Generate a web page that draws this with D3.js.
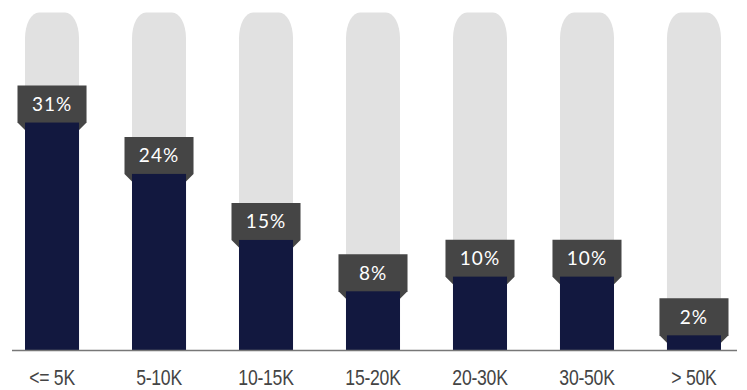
<!DOCTYPE html>
<html><head><meta charset="utf-8">
<script src="https://cdn.jsdelivr.net/npm/d3@7/dist/d3.min.js"></script>
<style>html,body{margin:0;padding:0;background:#fff;}svg{display:block;}</style>
</head><body>
<svg id="chart" width="747" height="390"></svg>
<script>
const categories = ["<= 5K", "5-10K", "10-15K", "15-20K", "20-30K", "30-50K", "> 50K"];
const values = [31, 24, 15, 8, 10, 10, 2];
const trackMax = 46;

const svg = d3.select("#chart");
const baseY = 350;
const x = d3.scaleBand().domain(categories).range([25, 721]).paddingInner(0.495).paddingOuter(0);
const y = d3.scaleLinear().domain([0, trackMax]).range([baseY, 12.5]);
const bw = x.bandwidth();

// tracks
const rx = 14, ry = 26;
svg.append("g").selectAll("path").data(categories).join("path")
  .attr("fill", "#e1e1e1")
  .attr("d", c => {
    const x0 = x(c), x1 = x0 + bw, t = y(trackMax);
    return `M${x0},${baseY} L${x0},${t+ry} A${rx},${ry} 0 0 1 ${x0+rx},${t} L${x1-rx},${t} A${rx},${ry} 0 0 1 ${x1},${t+ry} L${x1},${baseY} Z`;
  });

// label boxes
const boxH = 37, ext = 7.5, cham = 7.5;
const lab = svg.append("g").selectAll("g").data(values).join("g");
lab.append("path").attr("fill", "#454545")
  .attr("d", (v, i) => {
    const x0 = x(categories[i]), x1 = x0 + bw, t = y(v);
    return `M${x0-ext},${t-boxH} L${x1+ext},${t-boxH} L${x1+ext},${t} L${x1},${t+cham} L${x0},${t+cham} L${x0-ext},${t} Z`;
  });

// bars
svg.append("g").selectAll("rect").data(values).join("rect")
  .attr("fill", "#12183f")
  .attr("x", (v, i) => x(categories[i]))
  .attr("width", bw)
  .attr("y", v => y(v))
  .attr("height", v => baseY - y(v));

lab.append("text")
  .attr("x", (v, i) => x(categories[i]) + bw / 2)
  .attr("y", v => y(v) - boxH / 2 + 7)
  .attr("text-anchor", "middle")
  .attr("fill", "#fff")
  .attr("font-family", "Lato, 'Open Sans', sans-serif")
  .attr("font-size", 19)
  .attr("letter-spacing", 1)
  .text(v => v + "%");

// axis
const axis = svg.append("g").attr("transform", `translate(0,${baseY})`)
  .call(d3.axisBottom(x).tickSize(0).tickPadding(0));
axis.select(".domain").remove();
svg.append("line").attr("x1", 12).attr("x2", 737).attr("y1", baseY + 0.5).attr("y2", baseY + 0.5)
  .attr("stroke", "#777").attr("stroke-width", 1.5);
axis.selectAll("text")
  .attr("y", 35)
  .attr("dy", 0)
  .attr("transform", "scale(0.8,1)")
  .attr("fill", "#444")
  .attr("font-family", "'Liberation Sans', sans-serif")
  .attr("font-size", 22)
  .attr("letter-spacing", -0.3);
</script>
</body></html>
